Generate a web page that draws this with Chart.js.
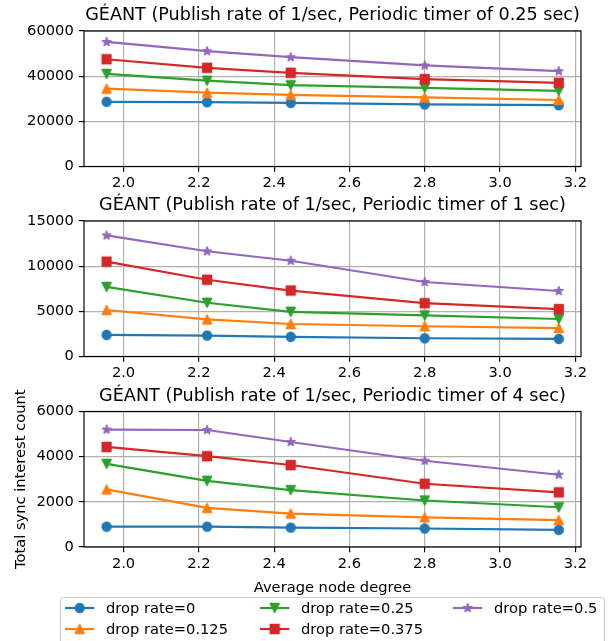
<!DOCTYPE html>
<html>
<head>
<meta charset="utf-8">
<script src="https://cdn.jsdelivr.net/npm/chart.js@4/dist/chart.umd.min.js"></script>
<style>
html, body { margin: 0; padding: 0; background: #fff; }
#wrap { position: relative; width: 615px; height: 641px; overflow: hidden; background: #fff; }
.panel { position: absolute; left: 0; width: 615px; }
canvas { display: block; }
</style>
</head>
<body>
<div id="wrap">
  <div class="panel" style="top:0px;height:190px"><canvas id="c1" width="615" height="190"></canvas></div>
  <div class="panel" style="top:190px;height:190px"><canvas id="c2" width="615" height="190"></canvas></div>
  <div class="panel" style="top:380px;height:261px"><canvas id="c3" width="615" height="261"></canvas></div>
</div>
<script>
// ---------------- DATA ----------------
const avgNodeDegree = [1.955, 2.222, 2.444, 2.8, 3.156];
const seriesLabels = ['drop rate=0', 'drop rate=0.125', 'drop rate=0.25', 'drop rate=0.375', 'drop rate=0.5'];
const panelTitles = [
  'GÉANT (Publish rate of 1/sec, Periodic timer of 0.25 sec)',
  'GÉANT (Publish rate of 1/sec, Periodic timer of 1 sec)',
  'GÉANT (Publish rate of 1/sec, Periodic timer of 4 sec)'
];
const xAxisTitle = 'Average node degree';
const yAxisTitle = 'Total sync interest count';

// Periodic timer 0.25 sec
const timer025_drop0     = [28650, 28500, 28200, 27500, 27150];
const timer025_drop0125  = [34450, 32700, 31700, 30600, 29450];
const timer025_drop025   = [41000, 38000, 36000, 34800, 33500];
const timer025_drop0375  = [47500, 43700, 41500, 38700, 37050];
const timer025_drop05    = [55150, 51050, 48400, 44750, 42200];

// Periodic timer 1 sec
const timer1_drop0       = [2400, 2320, 2180, 2020, 1950];
const timer1_drop0125    = [5150, 4100, 3600, 3350, 3150];
const timer1_drop025     = [7700, 5950, 4950, 4550, 4150];
const timer1_drop0375    = [10500, 8500, 7300, 5900, 5250];
const timer1_drop05      = [13400, 11650, 10600, 8250, 7250];

// Periodic timer 4 sec
const timer4_drop0       = [900, 900, 860, 820, 760];
const timer4_drop0125    = [2550, 1730, 1480, 1310, 1190];
const timer4_drop025     = [3680, 2930, 2520, 2060, 1760];
const timer4_drop0375    = [4430, 4020, 3630, 2800, 2420];
const timer4_drop05      = [5200, 5180, 4650, 3820, 3200];

const yMaxes = [60000, 15000, 6000];
const yStepSizes = [20000, 5000, 2000];
const xStepSize = 0.2;

// ---------------- STYLE ----------------
const PX = 105.6 / 72;             // points -> pixels
const FONT = 'DejaVu Sans';
const TICK_SIZE = 10 * PX;
const TITLE_SIZE = 12 * PX;
const LINE_W = 1.5 * PX;
const MS = 6 * PX;
const GRID_W = 0.8 * PX;
const colors = ['#1f77b4', '#ff7f0e', '#2ca02c', '#d62728', '#9467bd'];
const markers = ['o', '^', 'v', 's', '*'];

function markerImage(kind, color) {
  const s = 20;
  const c = document.createElement('canvas');
  c.width = s; c.height = s;
  const g = c.getContext('2d');
  g.translate(s / 2, s / 2);
  const h = MS / 2;
  g.beginPath();
  if (kind === 'o') {
    g.arc(0, 0, h, 0, Math.PI * 2);
  } else if (kind === '^') {
    g.moveTo(0, -h); g.lineTo(-h, h); g.lineTo(h, h); g.closePath();
  } else if (kind === 'v') {
    g.moveTo(0, h); g.lineTo(-h, -h); g.lineTo(h, -h); g.closePath();
  } else if (kind === 's') {
    g.rect(-h, -h, 2 * h, 2 * h);
  } else if (kind === '*') {
    for (let i = 0; i < 10; i++) {
      const r = (i % 2) ? h * 0.381966 : h;
      const a = -Math.PI / 2 + i * Math.PI / 5;
      const px = r * Math.cos(a), py = r * Math.sin(a);
      if (i === 0) g.moveTo(px, py); else g.lineTo(px, py);
    }
    g.closePath();
  }
  g.fillStyle = color;
  g.fill();
  g.lineWidth = PX;
  g.lineJoin = 'round';
  g.strokeStyle = color;
  g.stroke();
  return c;
}
const markerImgs = markers.map((m, i) => markerImage(m, colors[i]));

const panelSeries = [
  [timer025_drop0, timer025_drop0125, timer025_drop025, timer025_drop0375, timer025_drop05],
  [timer1_drop0, timer1_drop0125, timer1_drop025, timer1_drop0375, timer1_drop05],
  [timer4_drop0, timer4_drop0125, timer4_drop025, timer4_drop0375, timer4_drop05]
];

const framePlugin = {
  id: 'frame',
  afterDraw(chart, args, opts) {
    const ctx = chart.ctx;
    const a = chart.chartArea;
    ctx.save();
    // spines
    ctx.strokeStyle = '#000';
    ctx.lineWidth = GRID_W;
    ctx.strokeRect(a.left, a.top, a.right - a.left, a.bottom - a.top);
    // title
    ctx.fillStyle = '#000';
    ctx.font = TITLE_SIZE + 'px "' + FONT + '"';
    ctx.textAlign = 'center';
    ctx.textBaseline = 'alphabetic';
    ctx.fillText(opts.title, (a.left + a.right) / 2, a.top - 11);
    // legend
    if (opts.legend) {
      const cols = [[0, 1], [2, 3], [4]];
      const colX = [65, 260, 453];
      const rowY = [228, 249];
      const boxL = 60.5, boxT = 217.5, boxR = 604.5, boxB = 290, rad = 3;
      ctx.beginPath();
      ctx.moveTo(boxL + rad, boxT);
      ctx.lineTo(boxR - rad, boxT);
      ctx.quadraticCurveTo(boxR, boxT, boxR, boxT + rad);
      ctx.lineTo(boxR, boxB);
      ctx.lineTo(boxL, boxB);
      ctx.lineTo(boxL, boxT + rad);
      ctx.quadraticCurveTo(boxL, boxT, boxL + rad, boxT);
      ctx.closePath();
      ctx.fillStyle = 'rgba(255,255,255,0.8)';
      ctx.fill();
      ctx.strokeStyle = '#cccccc';
      ctx.lineWidth = 1;
      ctx.stroke();
      const handleLen = 2 * TICK_SIZE;
      const textPad = 0.8 * TICK_SIZE;
      ctx.font = TICK_SIZE + 'px "' + FONT + '"';
      ctx.textAlign = 'left';
      ctx.textBaseline = 'middle';
      cols.forEach((col, ci) => {
        col.forEach((di, ri) => {
          const ds = chart.data.datasets[di];
          const x0 = colX[ci], y0 = rowY[ri];
          ctx.beginPath();
          ctx.strokeStyle = ds.borderColor;
          ctx.lineWidth = LINE_W;
          ctx.moveTo(x0, y0);
          ctx.lineTo(x0 + handleLen, y0);
          ctx.stroke();
          const img = ds.pointStyle;
          ctx.drawImage(img, x0 + handleLen / 2 - img.width / 2, y0 - img.height / 2);
          ctx.fillStyle = '#000';
          ctx.fillText(ds.label, x0 + handleLen + textPad, y0 + 1);
        });
      });
    }
    ctx.restore();
  }
};

function makeChart(canvasId, p, isBottom) {
  const datasets = panelSeries[p].map((vals, i) => ({
    label: seriesLabels[i],
    data: avgNodeDegree.map((x, k) => ({ x: x, y: vals[k] })),
    borderColor: colors[i],
    backgroundColor: colors[i],
    borderWidth: LINE_W,
    borderJoinStyle: 'round',
    pointStyle: markerImgs[i],
    pointRadius: 4,
    pointHoverRadius: 4,
    tension: 0,
    fill: false,
    order: 5 - i
  }));
  const tickFont = { family: FONT, size: TICK_SIZE };
  const gridOpts = {
    color: '#b0b0b0', lineWidth: GRID_W, drawTicks: true,
    tickLength: 3.5 * PX, tickColor: '#000', tickWidth: GRID_W
  };
  return new Chart(document.getElementById(canvasId), {
    type: 'line',
    data: { datasets: datasets },
    options: {
      responsive: false,
      animation: false,
      devicePixelRatio: 1,
      events: [],
      layout: { padding: { top: isBottom ? 31.5 : 31, left: 0, right: 34, bottom: 0 } },
      plugins: {
        legend: { display: false },
        tooltip: { enabled: false },
        title: { display: false },
        frame: { title: panelTitles[p], legend: isBottom }
      },
      scales: {
        x: {
          type: 'linear',
          min: 1.895,
          max: 3.215,
          afterFit: s => { s.height = isBottom ? 94 : 23.5; },
          grid: gridOpts,
          border: { display: false },
          ticks: {
            stepSize: xStepSize, includeBounds: false, maxRotation: 0, autoSkip: false,
            padding: 3.5 * PX - 2, color: '#000', font: tickFont,
            callback: v => Number(v).toFixed(1)
          },
          title: isBottom ? {
            display: true, text: xAxisTitle, color: '#000', font: tickFont,
            padding: { top: 0, bottom: 44 }
          } : { display: false }
        },
        y: {
          type: 'linear',
          min: 0,
          max: yMaxes[p],
          afterFit: s => { s.width = 84; },
          grid: gridOpts,
          border: { display: false },
          ticks: {
            stepSize: yStepSizes[p], includeBounds: false, color: '#000', font: tickFont,
            padding: 3.5 * PX, callback: v => String(v)
          },
          title: isBottom ? {
            display: true, text: yAxisTitle, color: '#000', font: tickFont,
            padding: { top: 12.2, bottom: 0 }
          } : { display: false }
        }
      }
    },
    plugins: [framePlugin]
  });
}

makeChart('c1', 0, false);
makeChart('c2', 1, false);
makeChart('c3', 2, true);
</script>
</body>
</html>
